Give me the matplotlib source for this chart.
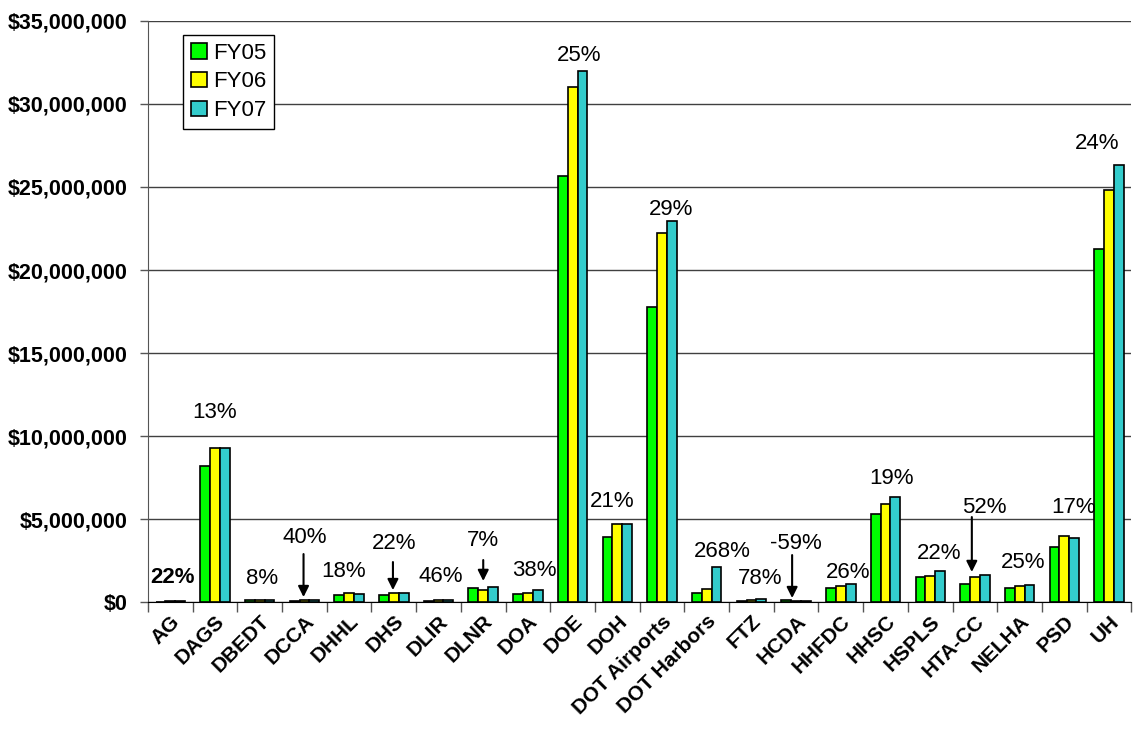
import numpy as np
import matplotlib
matplotlib.use('Agg')
from matplotlib import pyplot as plt
from matplotlib.ticker import FuncFormatter, FixedLocator

plt.rcParams['font.family'] = ['Liberation Sans', 'DejaVu Sans']

agencies = ['AG', 'DAGS', 'DBEDT', 'DCCA', 'DHHL', 'DHS', 'DLIR', 'DLNR', 'DOA', 'DOE',
            'DOH', 'DOT Airports', 'DOT Harbors', 'FTZ', 'HCDA', 'HHFDC', 'HHSC', 'HSPLS',
            'HTA-CC', 'NELHA', 'PSD', 'UH']
fy05 = [30000, 8200000, 110000, 80000, 420000, 450000, 80000, 860000, 500000, 25660000,
        3900000, 17770000, 520000, 90000, 150000, 840000, 5320000, 1500000,
        1080000, 840000, 3300000, 21250000]
fy06 = [35000, 9280000, 100000, 95000, 550000, 560000, 100000, 720000, 560000, 31000000,
        4700000, 22200000, 800000, 100000, 60000, 940000, 5920000, 1590000,
        1490000, 980000, 4000000, 24800000]
fy07 = [37000, 9280000, 120000, 110000, 500000, 550000, 115000, 920000, 700000, 32000000,
        4700000, 22970000, 2090000, 160000, 60000, 1070000, 6330000, 1870000,
        1630000, 1040000, 3870000, 26350000]
pct = ['22%', '13%', '8%', '40%', '18%', '22%', '46%', '7%', '38%', '25%',
       '21%', '29%', '268%', '78%', '-59%', '26%', '19%', '22%',
       '52%', '25%', '17%', '24%']
series = ['FY05', 'FY06', 'FY07']
colors = ['#00FF00', '#FFFF00', '#33CCCC']

# label layout: (x offset from group centre, y of text centre)
label_pos = [(0.04, 1.45e6), (0.0, 11.39e6), (0.05, 1.39e6), (0.0, 3.86e6), (-0.12, 1.87e6),
             (0.0, 3.55e6), (0.04, 1.51e6), (0.0, 3.73e6), (0.15, 1.93e6), (0.15, 32.95e6),
             (-0.11, 6.08e6), (0.2, 23.67e6), (0.34, 3.07e6), (0.19, 1.39e6), (0.0, 3.55e6),
             (0.16, 1.75e6), (0.14, 7.47e6), (0.19, 2.95e6), (0.22, 5.72e6), (0.07, 2.41e6),
             (0.2, 5.72e6), (-0.26, 27.59e6)]
# arrows: index -> (x offset, y start, y end)
arrows = {3: (-0.02, 2.89e6, 0.3e6), 5: (-0.02, 2.41e6, 0.72e6), 7: (0.0, 2.53e6, 1.27e6),
          14: (-0.09, 2.83e6, 0.24e6), 18: (-0.07, 5.12e6, 1.81e6)}

fig = plt.figure(figsize=(11.33, 7.36), dpi=100)
ax = fig.add_axes([0.1306, 0.182, 0.868, 0.7895])

x = np.arange(len(agencies))
w = 0.22
for k, vals in enumerate([fy05, fy06, fy07]):
    ax.bar(x + (k - 1) * w, vals, w, color=colors[k], edgecolor='black', linewidth=1.2,
           label=series[k], zorder=3)

for i, t in enumerate(pct):
    dx, y = label_pos[i]
    ax.text(i + dx, y, t, ha='center', va='center', fontsize=16,
            fontweight='bold' if i == 0 else 'normal', zorder=4)
for i, (dx, y0, y1) in arrows.items():
    ax.annotate('', xy=(i + dx, y1), xytext=(i + dx, y0),
                arrowprops=dict(arrowstyle='-|>', color='black', lw=1.5, mutation_scale=16,
                                shrinkA=0, shrinkB=0),
                zorder=4)

ax.set_xlim(-0.5, len(agencies) - 0.5)
ax.set_ylim(0, 35000000)
ax.yaxis.set_major_locator(FixedLocator(np.arange(0, 35000001, 5000000)))
ax.yaxis.set_major_formatter(FuncFormatter(lambda v, p: '${:,.0f}'.format(v)))
ax.grid(axis='y', color='#404040', linewidth=1.0, zorder=0)
ax.set_axisbelow(True)

ax.set_xticks(x)
ax.set_xticklabels(agencies, rotation=45, ha='right', rotation_mode='anchor',
                   fontsize=15, fontweight='bold')
ax.set_xticks(np.arange(-0.5, len(agencies)), minor=True)
ax.tick_params(axis='x', which='major', length=0, pad=7)
ax.tick_params(axis='x', which='minor', length=7, width=1, color='#555555')
ax.tick_params(axis='y', length=6, width=1, color='#555555', pad=9)
for lab in ax.get_yticklabels():
    lab.set_fontsize(15.5)
    lab.set_fontweight('bold')

ax.spines['top'].set_visible(False)
ax.spines['right'].set_visible(False)
ax.spines['left'].set_color('#555555')
ax.spines['bottom'].set_color('black')

leg = ax.legend(loc='upper left', bbox_to_anchor=(0.036, 0.976), borderaxespad=0,
                fontsize=16, fancybox=False, framealpha=1, edgecolor='black',
                handlelength=0.7, handleheight=0.7, handletextpad=0.3, borderpad=0.35,
                labelspacing=0.35)
leg.get_frame().set_linewidth(1.0)

fig.savefig('out.png', dpi=100)
